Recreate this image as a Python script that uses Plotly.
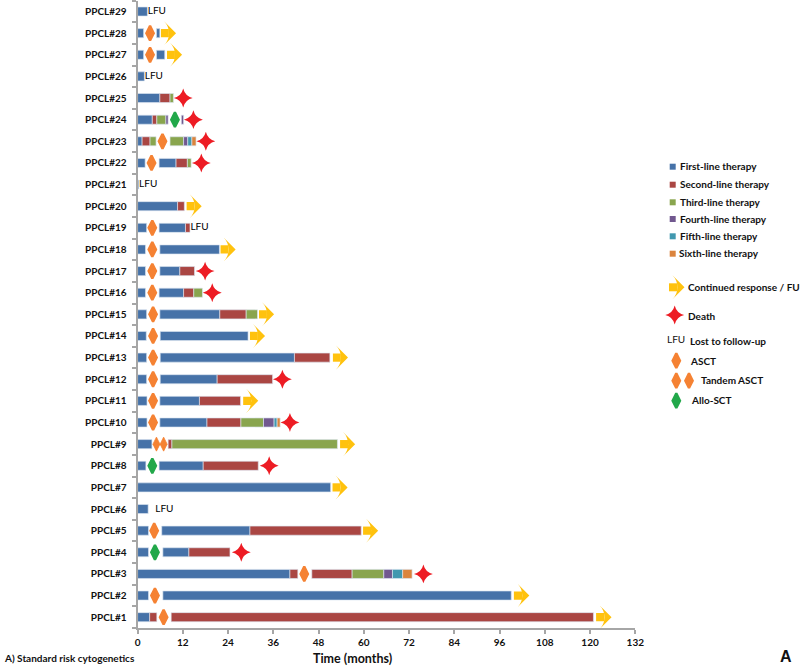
import plotly.graph_objects as go

patients = [f"PPCL#{i}" for i in range(1, 30)]
x_ticks = list(range(0, 133, 12))

# Therapy segments: patient number, start month, end month
first_n = [29,28,28,27,27,26,25,24,23,22,22,21,20,19,19,18,18,17,17,16,16,15,15,14,14,13,13,12,12,11,11,10,10,9,8,8,7,6,5,5,4,4,3,2,2,1]
first_s = [0,0,5.0,0,5.0,0,0,0,0,0,5.7,0,0,0,5.7,0,5.9,0,5.9,0,5.7,0,5.9,0,6.0,0,6.0,0,6.0,0,5.9,0,5.9,0,0,5.7,0,0,0,6.4,0,6.7,0,0,6.7,0]
first_e = [2.6,1.6,5.9,1.6,7.2,1.8,5.9,3.9,1.2,2.0,10.2,0.3,10.6,2.4,12.7,2.1,21.7,2.1,11.2,2.1,12.2,2.4,21.8,2.3,29.3,2.4,41.6,2.4,21.1,2.5,16.4,2.5,18.4,3.8,2.2,17.4,51.2,2.8,2.9,29.8,2.9,13.6,40.4,2.9,99.1,3.2]

second_n = [25,24,23,22,20,19,17,16,15,13,12,11,10,9,8,5,4,3,3,1,1]
second_s = [5.9,3.9,1.2,10.2,10.6,12.7,11.2,12.2,21.8,41.6,21.1,16.4,18.4,8.1,17.4,29.8,13.6,40.4,46.2,3.2,8.9]
second_e = [8.6,5.1,3.3,13.2,12.4,13.9,15.1,14.9,28.8,51.0,35.8,27.3,27.4,9.1,32.0,59.3,24.5,42.5,56.9,5.1,120.9]

third_n = [25,24,23,23,22,16,15,10,9,3]
third_s = [8.6,5.1,3.3,8.6,13.2,14.9,28.8,27.4,9.1,56.9]
third_e = [9.5,7.5,4.9,12.2,14.2,17.2,31.8,33.4,53.0,65.3]

fourth_n = [24,24,23,10,3]
fourth_s = [7.5,11.6,12.2,33.4,65.3]
fourth_e = [8.1,12.2,13.3,36.2,67.6]

fifth_n = [23,10,3]
fifth_s = [13.3,36.2,67.6]
fifth_e = [14.4,37.0,70.3]

sixth_n = [23,10,3]
sixth_s = [14.4,37.0,70.3]
sixth_e = [15.5,37.8,72.8]

asct_n = [28,27,23,22,19,18,17,16,15,14,13,12,11,10,5,3,2,1]
asct_x = [3.3,3.3,6.6,3.7,3.9,3.9,3.9,3.9,4.1,4.1,4.1,4.1,4.1,4.1,4.4,44.2,4.6,6.9]
tandem_n = [9,9]
tandem_x = [5.0,6.9]
allo_n = [24,8,4]
allo_x = [9.9,3.9,4.6]
death_n = [25,24,23,22,17,16,12,10,8,4,3]
death_x = [12.1,14.8,18.1,16.9,17.9,19.8,38.4,40.4,34.9,27.5,75.8]
lfu_n = [29,26,21,19,6]
lfu_x = [2.7,1.9,0.4,14.0,4.7]
arrow_n = [28,27,20,18,15,14,13,11,9,7,5,2,1]
arrow_s = [6.2,7.8,13.0,22.0,32.2,29.8,51.8,28.0,53.7,51.7,59.8,99.8,121.6]
arrow_e = [10.2,11.8,17.0,26.0,36.2,33.8,55.8,32.0,57.7,55.7,63.8,103.9,125.7]

line_names = ["First-line therapy","Second-line therapy","Third-line therapy",
              "Fourth-line therapy","Fifth-line therapy","Sixth-line therapy"]
line_colors = ["#4672A8","#AA4643","#89A54E","#71588F","#4198AF","#DB843D"]
line_data = [(first_n,first_s,first_e),(second_n,second_s,second_e),(third_n,third_s,third_e),
             (fourth_n,fourth_s,fourth_e),(fifth_n,fifth_s,fifth_e),(sixth_n,sixth_s,sixth_e)]

YELLOW, RED, ORANGE, GREEN = "#FFC20E", "#ED1C24", "#F58233", "#22A84A"
FONT = "Lato"
BAR_W = 0.42
ARROW_SIZE = 17
STAR_SIZE = 13.5
DIA_SIZE = 10.5
DIA_LINE = 2.4
name = lambda n: f"PPCL#{n}"

fig = go.Figure()
for label_, col, (ns, ss, es) in zip(line_names, line_colors, line_data):
    fig.add_bar(y=[name(n) for n in ns], base=ss, x=[e - s for s, e in zip(ss, es)],
                orientation="h", width=BAR_W, name=label_,
                marker=dict(color=col, line=dict(color="rgba(220,230,241,0.8)", width=0.8)))

# Arrow: shaft bar plus wide arrow-head whose tip sits at the end month
fig.add_bar(y=[name(n) for n in arrow_n], base=arrow_s, x=[e - s - 1.9 for s, e in zip(arrow_s, arrow_e)],
            orientation="h", width=0.38, name="Continued response / FU", marker=dict(color=YELLOW, line=dict(width=0)))
fig.add_scatter(y=[name(n) for n in arrow_n], x=arrow_e, mode="markers", name="arrow head",
                marker=dict(symbol="arrow-wide", angle=90, size=ARROW_SIZE, color=YELLOW, line=dict(width=0)))

def dia(ns, xs, col, label_, size=DIA_SIZE, lw=DIA_LINE):
    fig.add_scatter(y=[name(n) for n in ns], x=xs, mode="markers", name=label_,
                    marker=dict(symbol="diamond-tall", size=size, color=col, line=dict(color=col, width=lw)))
dia(asct_n, asct_x, ORANGE, "ASCT")
dia(tandem_n, tandem_x, ORANGE, "Tandem ASCT", size=10, lw=0.8)
dia(allo_n, allo_x, GREEN, "Allo-SCT")
fig.add_scatter(y=[name(n) for n in death_n], x=death_x, mode="markers", name="Death",
                marker=dict(symbol="star-diamond", size=STAR_SIZE, color=RED, line=dict(width=0)))
fig.add_scatter(y=[name(n) for n in lfu_n], x=lfu_x, mode="text", name="LFU",
                text=["LFU"] * len(lfu_n), textposition="middle right",
                textfont=dict(family=FONT, size=10, color="#000000"))

# Hand-drawn key, placed on a full-page pixel axis pair
kx, ky = "x2", "y2"
swatch_y = [166.7,184.7,202.3,219,236.3,253.7]
fig.add_scatter(xaxis=kx, yaxis=ky, x=[672.7]*6, y=swatch_y, mode="markers",
                marker=dict(symbol="square", size=6, color=line_colors, line=dict(width=0)))
fig.add_scatter(xaxis=kx, yaxis=ky, x=[669,677.5], y=[287.3,287.3], mode="lines",
                line=dict(color=YELLOW, width=8))
fig.add_scatter(xaxis=kx, yaxis=ky, x=[684.5], y=[287.3], mode="markers",
                marker=dict(symbol="arrow-wide", angle=90, size=ARROW_SIZE, color=YELLOW, line=dict(width=0)))
fig.add_scatter(xaxis=kx, yaxis=ky, x=[674.7], y=[315], mode="markers",
                marker=dict(symbol="star-diamond", size=STAR_SIZE, color=RED, line=dict(width=0)))
fig.add_scatter(xaxis=kx, yaxis=ky, x=[676.3,676.3,689], y=[360.7,380.7,380.7], mode="markers",
                marker=dict(symbol="diamond-tall", size=DIA_SIZE, color=ORANGE, line=dict(color=ORANGE, width=DIA_LINE)))
fig.add_scatter(xaxis=kx, yaxis=ky, x=[676.3], y=[400.7], mode="markers",
                marker=dict(symbol="diamond-tall", size=DIA_SIZE, color=GREEN, line=dict(color=GREEN, width=DIA_LINE)))

def label(txt, x, y, size=10, anchor="left", family=FONT, bold=True):
    fig.add_annotation(text=f"<b>{txt}</b>" if bold else txt, xref="paper", yref="paper",
                       x=x/800, y=1-y/669, xanchor=anchor, yanchor="middle", showarrow=False,
                       font=dict(family=family, size=size, color="#111111"), borderpad=0, borderwidth=0)

for t, x, y in zip(line_names, [679.7]*5+[679], swatch_y):
    label(t, x, y-0.3)
label("Continued response / FU", 688.3, 287.3)
label("Death", 688.3, 315.5)
label("LFU", 667.3, 339.3, bold=False, size=10)
label("Lost to follow-up", 689.7, 340.8)
label("ASCT", 690, 361)
label("Tandem ASCT", 701.3, 380)
label("Allo-SCT", 690.7, 400.5)
label("A) Standard risk cytogenetics", 4, 657.7, size=10)
label("Time (months)", 313.3, 658.3, size=12.5)
label("A", 780, 656, size=16, family="Liberation Sans")

AX = "#A6A6A6"
fig.update_layout(
    width=800, height=669, autosize=False, margin=dict(l=0, r=0, t=0, b=0),
    paper_bgcolor="white", plot_bgcolor="rgba(0,0,0,0)", barmode="overlay", showlegend=False,
    font=dict(family=FONT, color="#111111"),
    xaxis=dict(domain=[137.6/800, 635.3/800], range=[0, 132], tickvals=x_ticks, ticks="outside",
               ticklen=4, tickcolor=AX, tickwidth=1.5, showline=True, linecolor=AX, linewidth=2,
               showgrid=False, zeroline=False, automargin=False,
               tickfont=dict(family=FONT, size=10, color="#111111", weight="bold")),
    yaxis=dict(domain=[1-628/669, 1-0.7/669], type="category", categoryorder="array",
               categoryarray=patients, range=[-0.5, 28.5], tickson="boundaries", ticks="outside",
               ticklen=4, tickcolor=AX, tickwidth=1.5, showline=True, linecolor=AX, linewidth=2,
               showgrid=False, zeroline=False, automargin=False, ticklabelstandoff=7,
               tickfont=dict(family=FONT, size=10, color="#111111", weight="bold")),
    xaxis2=dict(domain=[0, 1], range=[0, 800], visible=False, anchor="y2", automargin=False),
    yaxis2=dict(domain=[0, 1], range=[669, 0], visible=False, anchor="x2", automargin=False),
)
fig.write_html("out.html", config=dict(displayModeBar=False),
               post_script="document.body.style.margin='0';document.body.style.overflow='hidden';")
